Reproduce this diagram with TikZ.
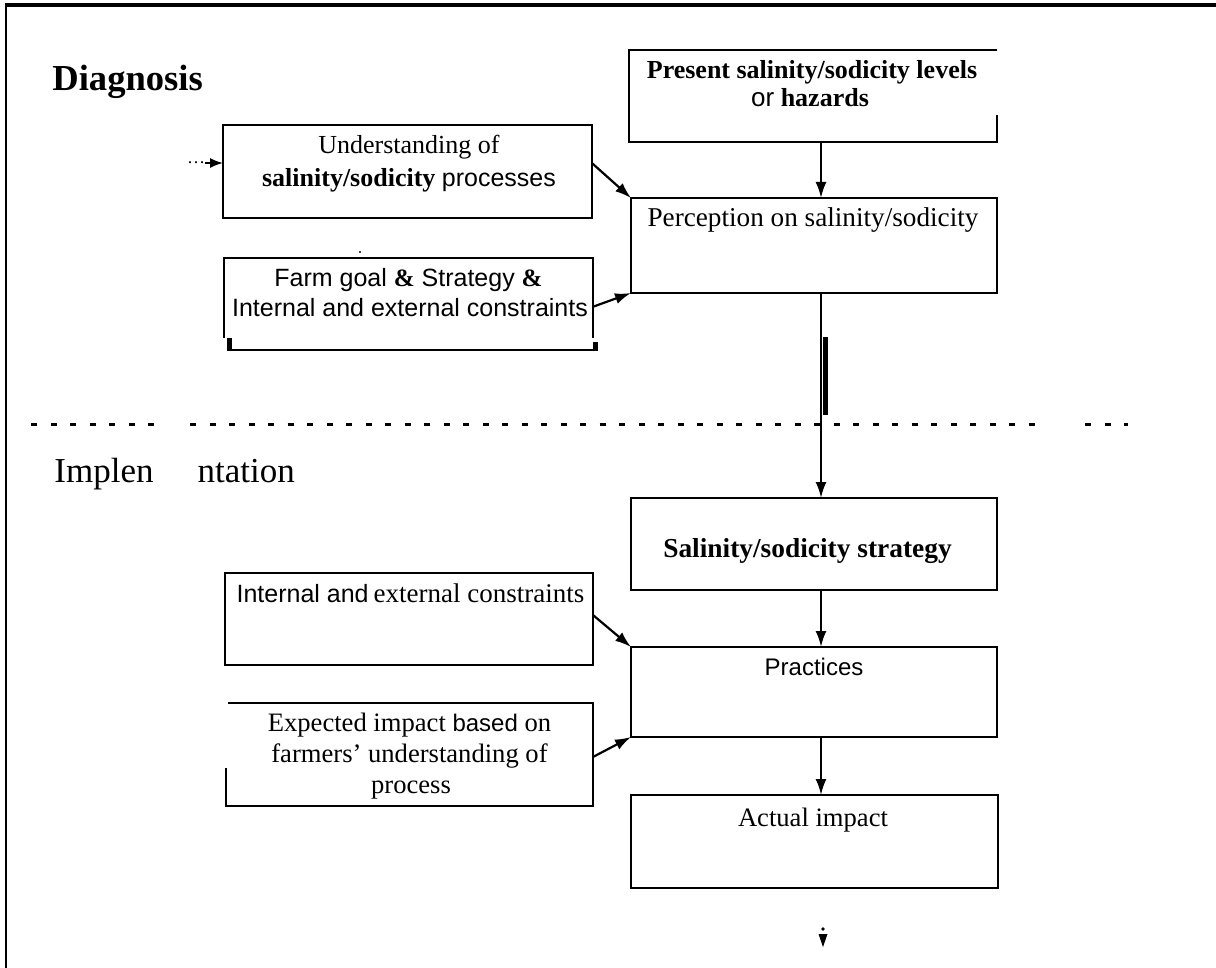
\documentclass[tikz,border=0pt]{standalone}
\usepackage{fontspec}
\setmainfont{Liberation Serif}
\setsansfont{Liberation Sans}
\usetikzlibrary{arrows.meta,calc}
\newcommand{\myfs}[1]{\fontsize{#1}{#1}\selectfont}
\begin{document}
\begin{tikzpicture}[x=0.5pt,y=-0.5pt,
  box/.style={draw,line width=1.2pt,inner sep=0pt,outer sep=0pt,rectangle},
  shell/.style={inner sep=0pt,outer sep=0pt,rectangle},
  outline/.style={line width=1.2pt},
  arr/.style={line width=1.1pt,-{Latex[length=8pt,width=5.5pt]}},
  txt/.style={inner sep=0pt,anchor=base},
  sepline/.style={line width=1.5pt,dash pattern=on 3pt off 6.75pt},
]
\useasboundingbox (0,0) rectangle (1216,968);
% frame
\draw[line width=2pt] (5,5) -- (1216,5);
\draw[line width=1.2pt] (6,5) -- (6,968);

% section titles
\node[inner sep=0pt,anchor=base west] (diag) at (52,91) {\myfs{18.3pt}\bfseries Diagnosis};
\node[inner sep=0pt,anchor=base west] (impl) at (54,482) {\myfs{17.5pt}Implen\hspace{22pt}ntation};

% separator
\draw[sepline] (31,424.5) -- (159,424.5);
\draw[sepline] (190,424.5) -- (1039,424.5);
\draw[sepline] (1085,424.5) -- (1128,424.5);

% Present box (open on upper right side)
\node[shell,minimum width=184pt,minimum height=46pt] (pres) at (813,96) {};
\draw[outline] ($(pres.south east)+(0,-27)$) -- (pres.south east) -- (pres.south west) -- (pres.north west) -- (pres.north east);
\node[txt] (presA) at (812,79) {\myfs{13pt}\bfseries Present salinity/sodicity levels};
\node[txt] (presB) at (810,107) {\myfs{13pt}{\sffamily or} \textbf{hazards}};

% Perception
\node[box,minimum width=183pt,minimum height=47.5pt] (perc) at (814,245.5) {};
\node[txt] (percT) at (813,227) {\myfs{13.6pt}Perception on salinity/sodicity};

% Understanding
\node[box,minimum width=184.5pt,minimum height=46.5pt] (und) at (407.5,171.5) {};
\node[txt] (undA) at (409,154) {\myfs{13pt}Understanding of};
\node[txt] (undB) at (409,187) {\myfs{13pt}\textbf{salinity/sodicity} {\sffamily\myfs{12.5pt}processes}};

% Farm goal box
\node[shell,minimum width=184.5pt,minimum height=46pt] (farm) at (408.5,304) {};
\draw[outline] ($(farm.south west)+(0,-12)$) -- (farm.north west) -- (farm.north east) -- ($(farm.south east)+(0,-12)$);
\draw[outline] ($(farm.south west)+(4,0)$) -- ($(farm.south east)+(2,0)$);
\draw[line width=2.5pt] ($(farm.south west)+(5,-12)$) -- ($(farm.south west)+(5,1)$);
\draw[line width=2.5pt] ($(farm.south east)+(2,-8)$) -- ($(farm.south east)+(2,1)$);
\node[txt] (farmA) at (408.5,287) {\myfs{12.5pt}\sffamily Farm goal {\rmfamily\bfseries\&} Strategy {\rmfamily\bfseries\&}};
\node[txt] (farmB) at (410,317) {\myfs{12.5pt}\sffamily Internal and external constraints};
\fill (360,252) circle[radius=0.6pt];

% Strategy
\node[box,minimum width=183pt,minimum height=46pt] (strat) at (814,544) {};
\node[txt] (stratT) at (807.5,557) {\myfs{13.7pt}\bfseries Salinity/sodicity strategy};

% Practices
\node[box,minimum width=183pt,minimum height=45pt] (prac) at (814,692) {};
\node[txt] (pracT) at (814,675) {\myfs{12pt}\sffamily Practices};

% Actual impact
\node[box,minimum width=183.5pt,minimum height=46.5pt] (act) at (814.5,841.5) {};
\node[txt] (actT) at (813,826) {\myfs{13.3pt}Actual impact};

% Internal constraints
\node[box,minimum width=184pt,minimum height=46pt] (intl) at (409,619) {};
\node[txt] (intlT) at (410.5,602) {{\myfs{12.5pt}\sffamily Internal and} \myfs{13.5pt}external constraints};

% Expected impact box (open on upper left side)
\node[shell,minimum width=183.5pt,minimum height=51.5pt] (exp) at (409.5,754.5) {};
\draw[outline] ($(exp.south west)+(0,-38)$) -- (exp.south west) -- (exp.south east) -- (exp.north east) -- ($(exp.north west)+(2,0)$);
\node[txt] (expA) at (409.5,731) {\myfs{13.3pt}Expected impact {\sffamily\myfs{12pt}based} on};
\node[txt] (expB) at (409.5,762) {\myfs{13.3pt}farmers' understanding of};
\node[txt] (expC) at (411,793) {\myfs{13.3pt}process};

% connectors
\coordinate (ax) at (821,0);
\draw[arr] (pres.south -| ax) -- (perc.north -| ax);
\draw[arr] (perc.south -| ax) -- (strat.north -| ax);
\coordinate (barA) at (825.5,337);
\coordinate (barB) at (825.5,415);
\draw[line width=2.5pt] (barA) -- (barB);
\draw[arr] (strat.south -| ax) -- (prac.north -| ax);
\draw[arr] (prac.south -| ax) -- (act.north -| ax);
\draw[arr] ($(und.north east)!0.41!(und.south east)$) -- (perc.north west);
\draw[arr] ($(farm.north east)!0.53!(farm.south east)$) -- (perc.south west);
\draw[arr] ($(intl.north east)!0.457!(intl.south east)$) -- (prac.north west);
\draw[arr] ($(exp.north east)!0.524!(exp.south east)$) -- (prac.south west);

% incoming dotted arrow to Understanding
\node[inner sep=0pt] (dots) at (196,163) {\myfs{9pt}\dots};
\draw[line width=0.8pt,-{Latex[length=6.5pt,width=5pt]}] (dots.east) -- (dots.east -| und.west);

% small arrow mark at bottom
\coordinate (tip) at (823,947);
\fill (818.5,934) -- (827.5,934) -- (tip) -- cycle;
\fill (823,929) circle[radius=0.9pt];
\end{tikzpicture}
\end{document}
